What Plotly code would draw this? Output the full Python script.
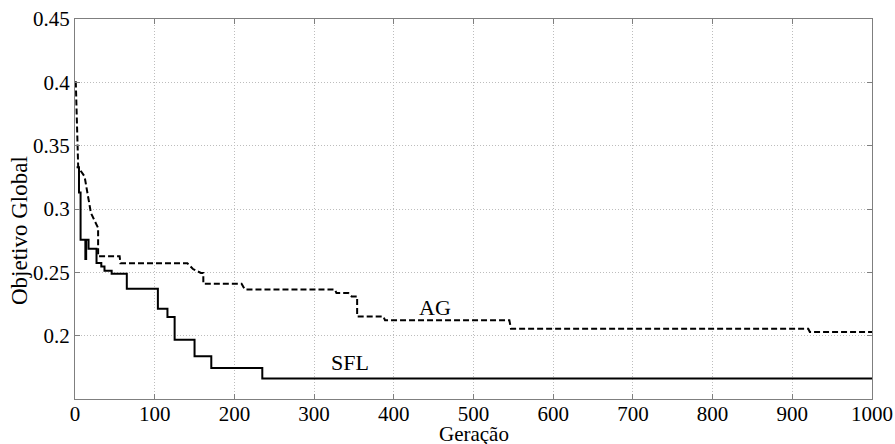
import plotly.graph_objects as go

# SFL (solid) – step curve: generation, global objective
sfl_gen = [2, 5, 7, 13, 14, 17, 27, 33, 37, 46, 65, 104, 116, 125, 150, 171, 235, 1000]
sfl_val = [0.333, 0.313, 0.2757, 0.2605, 0.2757, 0.2686, 0.2574, 0.2547, 0.2513, 0.2489,
           0.2371, 0.2213, 0.2148, 0.1968, 0.1837, 0.1745, 0.1661, 0.1661]

# AG (dashed)
ag_gen = [0, 1, 4, 12, 20, 29, 29, 56, 57, 141, 148, 158, 161, 161, 209, 213, 326, 328,
          343, 347, 354, 354, 387, 389, 545, 547, 920, 922, 1000]
ag_val = [0.4, 0.4, 0.333, 0.3257, 0.2968, 0.285, 0.2626, 0.2626, 0.2572, 0.2572, 0.2526,
          0.2495, 0.2495, 0.241, 0.241, 0.2365, 0.2365, 0.2337, 0.2337, 0.231, 0.231, 0.2152,
          0.2152, 0.2121, 0.2121, 0.2055, 0.2055, 0.2029, 0.2029]

x_ticks = [0, 100, 200, 300, 400, 500, 600, 700, 800, 900, 1000]
y_ticks = [0.2, 0.25, 0.3, 0.35, 0.4, 0.45]
y_tick_text = ["0.2", "0.25", "0.3", "0.35", "0.4", "0.45"]

FONT = "Liberation Serif, Times New Roman, serif"

fig = go.Figure()
fig.add_trace(go.Scatter(x=ag_gen, y=ag_val, mode="lines", name="AG",
                         line=dict(color="black", width=2, dash="6px,3px")))
fig.add_trace(go.Scatter(x=sfl_gen, y=sfl_val, mode="lines", name="SFL", line_shape="hv",
                         line=dict(color="black", width=2)))

fig.add_annotation(x=452, y=0.2223, text="AG", showarrow=False,
                   font=dict(family=FONT, size=22, color="black"))
fig.add_annotation(x=345, y=0.1785, text="SFL", showarrow=False,
                   font=dict(family=FONT, size=22, color="black"))

# axis titles
fig.add_annotation(xref="paper", yref="paper", x=0.5, y=0, yanchor="middle", yshift=-35,
                   text="Geração", showarrow=False,
                   font=dict(family=FONT, size=21, color="black"))
fig.add_annotation(xref="paper", yref="paper", x=0, y=0.463, xanchor="center", xshift=-56,
                   yshift=-8, textangle=-90, text="Objetivo Global", showarrow=False,
                   font=dict(family=FONT, size=23, color="black"))

axis_common = dict(
    showline=True, linecolor="#7f7f7f", linewidth=1, mirror="ticks",
    ticks="inside", ticklen=5, tickcolor="#7f7f7f",
    showgrid=True, gridcolor="#bdbdbd", griddash="1px,2px", gridwidth=1,
    zeroline=False, automargin=False,
    tickfont=dict(family=FONT, size=21, color="black"),
)

fig.update_xaxes(range=[0, 1000], tickvals=x_ticks, ticklabelstandoff=-4, **axis_common)
fig.update_yaxes(range=[0.15, 0.45], tickvals=y_ticks, ticktext=y_tick_text, **axis_common)

fig.update_layout(
    width=895, height=444,
    margin=dict(l=75, r=23, t=19, b=45),
    paper_bgcolor="white", plot_bgcolor="white",
    showlegend=False,
    font=dict(family=FONT, color="black"),
)

fig.write_html("out.html", config={"displayModeBar": False},
               post_script="document.body.style.margin='0';document.body.style.overflow='hidden';")
